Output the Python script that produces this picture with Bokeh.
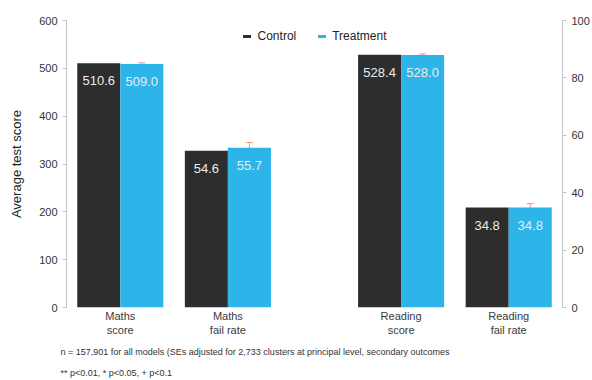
from bokeh.plotting import figure
from bokeh.models import (ColumnDataSource, FactorRange, Range1d, LinearAxis, Whisker,
                          TeeHead, Title, Legend, LegendItem, FixedTicker)
from bokeh.transform import dodge
from bokeh.core.properties import value
from bokeh.embed import file_html
from bokeh.resources import INLINE

# Outcome measures (two per subject); fail rates are plotted on the right-hand % axis
subjects = ["Maths", "Maths", "Reading", "Reading"]
measures = ["Maths\nscore", "Maths\nfail rate", "Reading\nscore", "Reading\nfail rate"]
is_rate = [False, True, False, True]
control = [510.6, 54.6, 528.4, 34.8]
treatment = [509.0, 55.7, 528.0, 34.8]
treatment_se = [2.5, 1.8, 2.0, 1.4]
score_ticks = [0, 100, 200, 300, 400, 500, 600]
rate_ticks = [0, 20, 40, 60, 80, 100]
series = ["Control", "Treatment"]
notes = [
    "n = 157,901 for all models (SEs adjusted for 2,733 clusters at principal level, secondary outcomes",
    "** p<0.01, * p<0.05, + p<0.1",
]

CONTROL_COLOR = "#2d2d2d"
TREAT_COLOR = "#2db4e9"
ERR_COLOR = "#e39a7c"
AXIS_COLOR = "#c4c4c4"
TEXT_COLOR = "#333333"
FONT = "Liberation Sans"

factors = list(zip(subjects, measures))


def make_source(rate):
    idx = [i for i, r in enumerate(is_rate) if r == rate]
    return ColumnDataSource(dict(
        x=[factors[i] for i in idx],
        control=[control[i] for i in idx],
        treatment=[treatment[i] for i in idx],
        upper=[treatment[i] + treatment_se[i] for i in idx],
        lower=[treatment[i] - treatment_se[i] for i in idx],
        control_lbl=[f"{control[i]:.1f}" for i in idx],
        treatment_lbl=[f"{treatment[i]:.1f}" for i in idx],
    ))


p = figure(width=592, height=380,
           x_range=FactorRange(*factors, group_padding=0.61, range_padding=0),
           y_range=Range1d(0, 600),
           output_backend="svg", toolbar_location=None,
           min_border_left=66, min_border_right=27, min_border_top=20, min_border_bottom=73)
p.extra_y_ranges = {"rate": Range1d(0, 100)}
p.outline_line_color = None
p.xgrid.grid_line_color = None
p.ygrid.grid_line_color = None

legend_renderers = {}
for rate, yname in [(False, "default"), (True, "rate")]:
    src = make_source(rate)
    for name, col, off, color in [("Control", "control", -0.2, CONTROL_COLOR),
                                  ("Treatment", "treatment", 0.2, TREAT_COLOR)]:
        xs = dodge("x", off, range=p.x_range)
        r = p.vbar(x=xs, top=col, width=0.4, source=src, y_range_name=yname,
                   fill_color=color, line_color=None)
        legend_renderers.setdefault(name, r)
        p.text(x=xs, y=col, text=col + "_lbl", source=src, y_range_name=yname,
               text_align="center", text_baseline="top", y_offset=13,
               text_color="#ececec", text_font_size="13px", text_font=value(FONT))
    w = Whisker(base=dodge("x", 0.2, range=p.x_range), upper="upper", lower="lower",
                source=src, y_range_name=yname, line_color=ERR_COLOR, line_width=1,
                upper_head=TeeHead(size=7, line_color=ERR_COLOR, line_width=1),
                lower_head=TeeHead(size=7, line_color=ERR_COLOR, line_width=1))
    p.add_layout(w)

# left axis: test scores
p.yaxis.ticker = FixedTicker(ticks=score_ticks)
p.yaxis.axis_label = "Average test score"
# right axis: fail rates (%)
right = LinearAxis(y_range_name="rate", ticker=FixedTicker(ticks=rate_ticks))
p.add_layout(right, "right")

for ax in [p.yaxis[0], right]:
    ax.axis_line_color = AXIS_COLOR
    ax.major_tick_line_color = AXIS_COLOR
    ax.minor_tick_line_color = None
    ax.major_tick_out = 4
    ax.major_tick_in = 0
    ax.major_label_text_font_size = "11px"
    ax.major_label_text_color = TEXT_COLOR
    ax.major_label_text_font = FONT
    ax.major_label_standoff = 5
p.yaxis[0].axis_label_text_font_size = "13px"
p.yaxis[0].axis_label_text_font_style = "normal"
p.yaxis[0].axis_label_text_font = FONT
p.yaxis[0].axis_label_text_color = "#222222"
p.yaxis[0].axis_label_standoff = 12

xa = p.xaxis[0]
xa.axis_line_color = None
xa.major_tick_line_color = None
xa.major_tick_out = 0
xa.major_tick_in = 0
xa.major_label_text_font_size = "11px"
xa.major_label_text_color = "#3a3a3a"
xa.major_label_text_font = FONT
xa.major_label_standoff = 2
xa.group_text_font_size = "0px"
xa.group_text_color = None
xa.separator_line_color = None

legend = Legend(items=[LegendItem(label=s, renderers=[legend_renderers[s]]) for s in series],
                location="top_center", orientation="horizontal",
                border_line_color=None, background_fill_alpha=0,
                glyph_width=10, glyph_height=4, label_standoff=6, spacing=20,
                margin=9, padding=6,
                label_text_font_size="12px", label_text_font=FONT,
                label_text_color="#222222")
p.add_layout(legend)

for t, gap in zip(notes, [13, 5]):
    p.add_layout(Title(text=t, align="left", offset=-6, text_font_size="9px",
                       text_font_style="normal", text_font=FONT, text_color=TEXT_COLOR,
                       standoff=gap), "below")

open("out.html", "w").write(file_html(p, INLINE))
